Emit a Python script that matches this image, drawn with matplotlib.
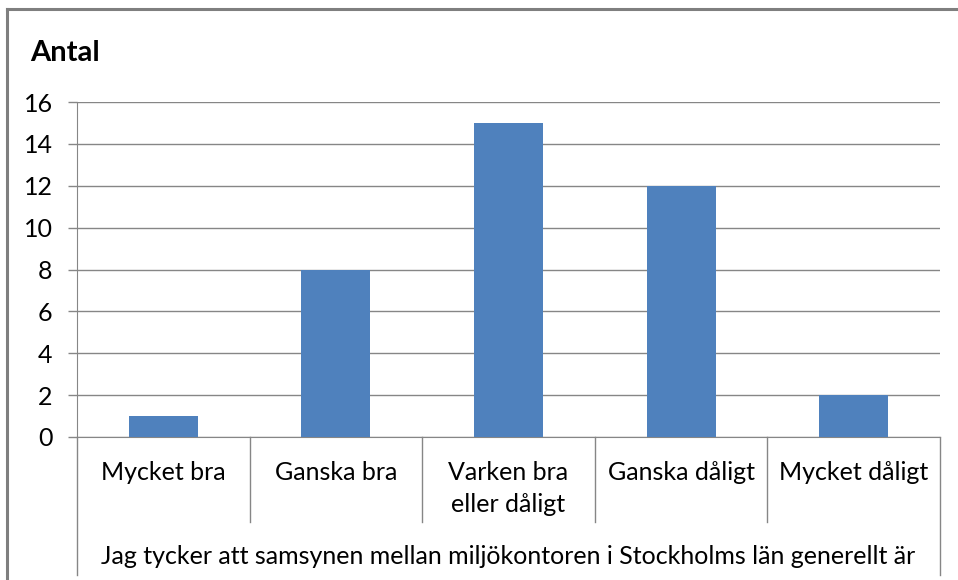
import matplotlib
matplotlib.use("Agg")
import matplotlib.pyplot as plt
from matplotlib.lines import Line2D
import matplotlib.transforms as mtransforms

categories = ["Mycket bra", "Ganska bra", "Varken bra\neller dåligt", "Ganska dåligt", "Mycket dåligt"]
values = [1, 8, 15, 12, 2]
yticks = [0, 2, 4, 6, 8, 10, 12, 14, 16]
group_label = "Jag tycker att samsynen mellan miljökontoren i Stockholms län generellt är"
title = "Antal"

plt.rcParams['font.family'] = ['Lato', 'DejaVu Sans']
W, H = 958, 580
fig = plt.figure(figsize=(W / 100, H / 100), dpi=100)
fig.patch.set_facecolor("white")

L, R, T, B = 77, 940, 102, 437
ax = fig.add_axes([L / W, (H - B) / H, (R - L) / W, (B - T) / H])

gray = "#868686"
bar_color = "#4F81BD"
x = list(range(len(categories)))
ax.bar(x, values, width=0.4, color=bar_color, zorder=3)
ax.set_xlim(-0.5, len(categories) - 0.5)
ax.set_ylim(0, 16)
ax.set_yticks(yticks)
ax.set_yticklabels([str(t) for t in yticks], fontsize=18, color="#000000")
ax.tick_params(axis="y", direction="out", length=6.5, width=1, color=gray, pad=11)
ax.tick_params(axis="x", bottom=False, labelbottom=False)
ax.grid(axis="y", color=gray, linewidth=1, zorder=0)
for s in ["top", "right"]:
    ax.spines[s].set_visible(False)
ax.spines["left"].set_color(gray)
ax.spines["bottom"].set_color(gray)
ax.spines["left"].set_zorder(4)

px = 1.0 / (B - T)
trans = mtransforms.blended_transform_factory(ax.transData, ax.transAxes)
# category separators
for i in range(1, len(categories)):
    ax.add_line(Line2D([i - 0.5, i - 0.5], [0, -(522 - B) * px], transform=trans,
                       color=gray, linewidth=1, clip_on=False))
# outer lines
for xe in [-0.5, len(categories) - 0.5]:
    ax.add_line(Line2D([xe, xe], [0, -(575 - B) * px], transform=trans,
                       color=gray, linewidth=1, clip_on=False))

for i, c in enumerate(categories):
    ax.text(i, -(461 - B) * px, c, transform=trans, ha="center", va="top",
            fontsize=18, linespacing=1.45)

ax.text((len(categories) - 1) / 2, -(557 - B) * px, group_label, transform=trans,
        ha="center", va="center", fontsize=18)

fig.text(30 / W, 1 - 53 / H, title, fontsize=21, fontweight="bold", ha="left", va="center")

# chart border
fig.add_artist(Line2D([7 / W, 1], [1 - 9 / H, 1 - 9 / H], transform=fig.transFigure,
                      color="#7f7f7f", linewidth=2.2))
fig.add_artist(Line2D([7 / W, 7 / W], [0, 1 - 9 / H], transform=fig.transFigure,
                      color="#7f7f7f", linewidth=2.2))

fig.savefig("out.png", dpi=100)
